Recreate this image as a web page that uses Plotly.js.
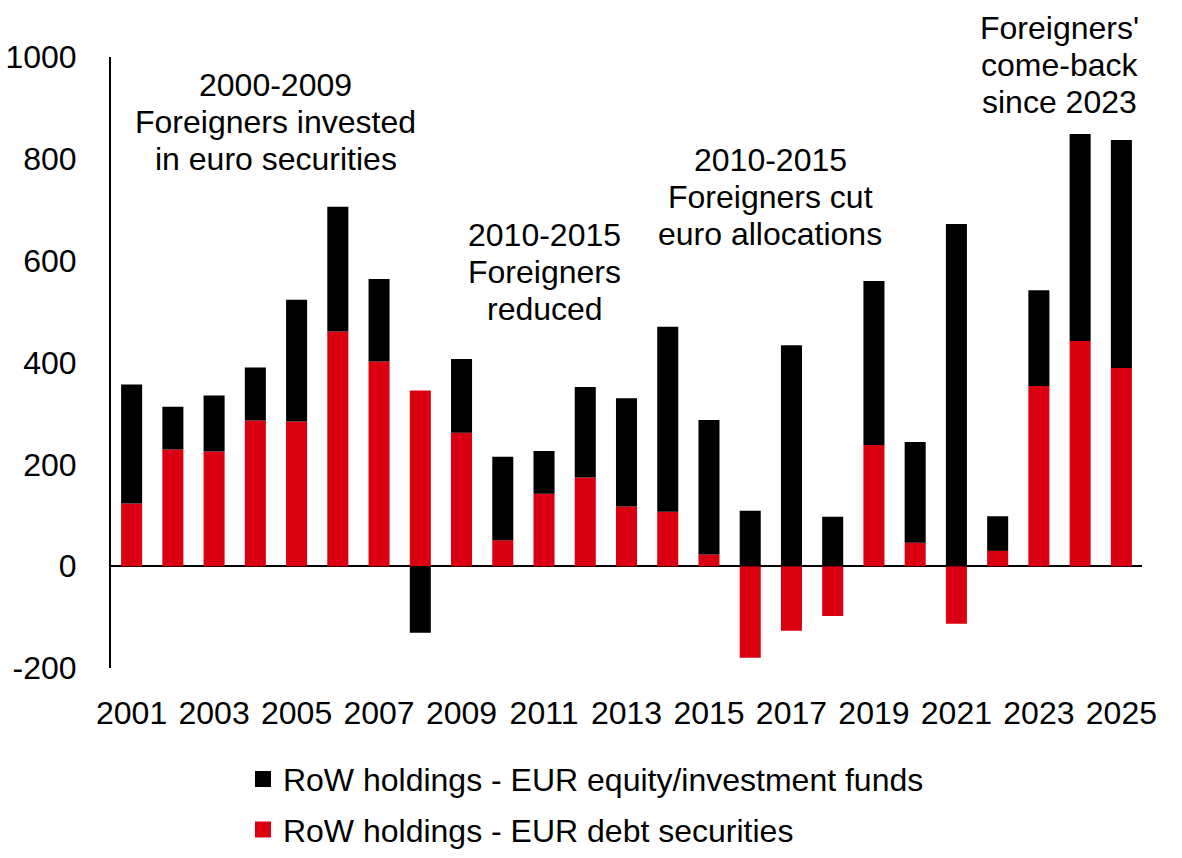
<!DOCTYPE html>
<html>
<head>
<meta charset="utf-8">
<script src="https://cdn.plot.ly/plotly-3.0.1.min.js"></script>
<style>
  html, body { margin: 0; padding: 0; background: #fff; }
  #plot { width: 1182px; height: 858px; }
</style>
</head>
<body>
<div id="plot"></div>
<script>
// years on the x axis
var years = [2001, 2002, 2003, 2004, 2005, 2006, 2007, 2008, 2009, 2010,
             2011, 2012, 2013, 2014, 2015, 2016, 2017, 2018, 2019, 2020,
             2021, 2022, 2023, 2024, 2025];

// RoW holdings - EUR debt securities (red)
var debt = [123, 229, 225, 286, 284, 461, 402, 345, 262, 51,
            142, 174, 117, 107, 23, -180, -127, -98, 238, 46,
            -113, 30, 354, 442, 389];

// RoW holdings - EUR equity/investment funds (black)
var equity = [234, 84, 110, 104, 239, 245, 162, -131, 145, 164,
              84, 178, 213, 363, 264, 109, 434, 97, 322, 198,
              672, 68, 188, 407, 448];

var yTicks = [-200, 0, 200, 400, 600, 800, 1000];
var yTickText = ['-200', '0', '200', '400', '600', '800', '1000'];

var nameEquity = 'RoW holdings - EUR equity/investment funds';
var nameDebt = 'RoW holdings - EUR debt securities';

// callout texts, one entry per line
var noteLines = [
  ['2000-2009', 'Foreigners invested', 'in euro securities'],
  ['2010-2015', 'Foreigners', 'reduced'],
  ['2010-2015', 'Foreigners cut', 'euro allocations'],
  ["Foreigners'", 'come-back', 'since 2023']
];

var fontFam = '"Liberation Sans", Arial, sans-serif';

var traceDebt = {
  x: years,
  y: debt,
  type: 'bar',
  name: nameDebt,
  showlegend: false,
  marker: { color: '#db0011', line: { width: 0 } }
};

var traceEquity = {
  x: years,
  y: equity,
  type: 'bar',
  name: nameEquity,
  showlegend: false,
  marker: { color: '#000000', line: { width: 0 } }
};

// legend-only entries so the key squares can be bigger
var keyEquity = {
  x: [null], y: [null], type: 'scatter', mode: 'markers',
  name: nameEquity, legendrank: 1, legendgroup: 'eq',
  marker: { symbol: 'square', size: 16, color: '#000000' }
};
var keyDebt = {
  x: [null], y: [null], type: 'scatter', mode: 'markers',
  name: nameDebt, legendrank: 2, legendgroup: 'debt',
  marker: { symbol: 'square', size: 16, color: '#db0011' }
};

var data = [traceDebt, traceEquity, keyEquity, keyDebt];

// where each callout sits (x in years, y of middle line in data units)
var notePos = [[2004.5, 873], [2011.02, 578], [2016.48, 725], [2023.5, 984]];
var lineStep = 37; // px between lines

var annotations = [];
noteLines.forEach(function (lines, k) {
  lines.forEach(function (txt, i) {
    annotations.push({
      x: notePos[k][0],
      y: notePos[k][1],
      yshift: (1 - i) * lineStep,
      xref: 'x', yref: 'y',
      text: txt,
      showarrow: false, xanchor: 'center', yanchor: 'middle',
      font: { family: fontFam, size: 32, color: '#000' }
    });
  });
});

var layout = {
  width: 1182,
  height: 858,
  barmode: 'relative',
  bargap: 0.49,
  paper_bgcolor: '#ffffff',
  plot_bgcolor: '#ffffff',
  font: { family: fontFam, size: 32, color: '#000' },
  margin: { l: 111, r: 40, t: 57, b: 190 },
  showlegend: true,
  legend: {
    orientation: 'v',
    traceorder: 'grouped',
    tracegroupgap: 6,
    x: 0.128,
    xanchor: 'left',
    yref: 'container',
    y: 0.124,
    yanchor: 'top',
    font: { family: fontFam, size: 32, color: '#000' },
    itemwidth: 30
  },
  xaxis: {
    range: [2000.5, 2025.5],
    tick0: 2001,
    dtick: 2,
    showgrid: false,
    zeroline: false,
    showline: false,
    ticks: '',
    ticklabelstandoff: 23,
    tickfont: { family: fontFam, size: 32, color: '#000' }
  },
  yaxis: {
    range: [-200, 1000],
    tickvals: yTicks,
    ticktext: yTickText,
    showgrid: false,
    zeroline: true,
    zerolinecolor: '#000',
    zerolinewidth: 2,
    showline: true,
    linecolor: '#000',
    linewidth: 2,
    ticks: '',
    ticklabelstandoff: 26,
    tickfont: { family: fontFam, size: 32, color: '#000' }
  },
  annotations: annotations
};

Plotly.newPlot('plot', data, layout, { staticPlot: true, displayModeBar: false });
</script>
</body>
</html>
